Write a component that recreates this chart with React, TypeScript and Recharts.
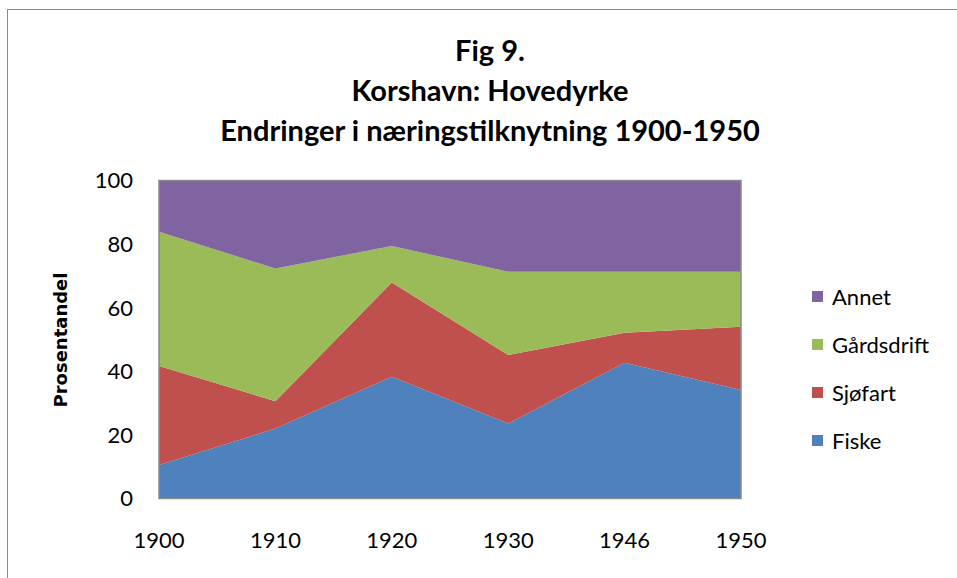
import React from 'react';
import { AreaChart, Area, XAxis, YAxis, ReferenceArea } from 'recharts';

const years = ['1900', '1910', '1920', '1930', '1946', '1950'];
const fiske = [10.5, 22, 38.3, 23.6, 42.7, 34.1];
const sjofart = [31.2, 8.6, 29.6, 21.5, 9.4, 19.9];
const gardsdrift = [42.2, 41.7, 11.5, 26.2, 19.2, 17.3];
const annet = [16.1, 27.7, 20.6, 28.7, 28.7, 28.7];
const yTicks = [0, 20, 40, 60, 80, 100];

const titleLines = ['Fig 9.', 'Korshavn: Hovedyrke', 'Endringer i næringstilknytning 1900-1950'];

const series = [
  { key: 'Fiske', color: '#4F81BD', values: fiske },
  { key: 'Sjøfart', color: '#C0504D', values: sjofart },
  { key: 'Gårdsdrift', color: '#9BBB59', values: gardsdrift },
  { key: 'Annet', color: '#8064A2', values: annet },
];

const data = years.map((y, i) => {
  const row: Record<string, string | number> = { year: y };
  series.forEach((s) => {
    row[s.key] = s.values[i];
  });
  return row;
});

const FONT = 'Lato, "Open Sans", sans-serif';

export default function App() {
  return (
    <div style={{ position: 'absolute', left: 0, top: 0, width: 957, height: 578, background: '#fff', overflow: 'hidden', fontFamily: FONT }}>
      <div style={{ position: 'absolute', left: 7, top: 9, width: 1000, height: 700, border: '1.5px solid #8a8a8a', boxSizing: 'border-box' }} />
      {titleLines.map((t, i) => (
        <div key={i} style={{ position: 'absolute', left: 0, width: 980, top: 30 + i * 40, textAlign: 'center', fontWeight: 700, fontSize: 29, lineHeight: '40px', color: '#000' }}>
          {t}
        </div>
      ))}
      <div style={{ position: 'absolute', left: 60, top: 340, transform: 'translate(-50%, -50%) rotate(-90deg)', fontWeight: 700, fontSize: 18, fontFamily: '"DejaVu Sans", Verdana, sans-serif', whiteSpace: 'nowrap', color: '#000' }}>
        Prosentandel
      </div>
      <div style={{ position: 'absolute', left: 0, top: 0 }}>
        <AreaChart width={957} height={578} data={data} margin={{ top: 180.5, right: 216, bottom: 19.5, left: 99 }}>
          <XAxis dataKey="year" axisLine={false} tickLine={false} tickMargin={28} height={60} tick={{ fill: '#000', fontSize: 22, fontFamily: FONT }} interval={0} />
          <YAxis domain={[0, 100]} ticks={yTicks} axisLine={false} tickLine={false} width={60} tickMargin={20} tick={{ fill: '#000', fontSize: 22, fontFamily: FONT }} />
          {series.map((s) => (
            <Area key={s.key} type="linear" dataKey={s.key} stackId="1" stroke="none" fill={s.color} fillOpacity={1} isAnimationActive={false} />
          ))}
          <ReferenceArea x1="1900" x2="1950" y1={0} y2={100} fill="none" stroke="#8a8a8a" strokeWidth={1.5} ifOverflow="visible" />
        </AreaChart>
      </div>
      {[...series].reverse().map((s, i) => (
        <div key={s.key} style={{ position: 'absolute', left: 812, top: 284 + i * 48, height: 24, display: 'flex', alignItems: 'center' }}>
          <div style={{ width: 11, height: 11, background: s.color, marginRight: 9 }} />
          <span style={{ fontSize: 22, color: '#000' }}>{s.key}</span>
        </div>
      ))}
    </div>
  );
}
